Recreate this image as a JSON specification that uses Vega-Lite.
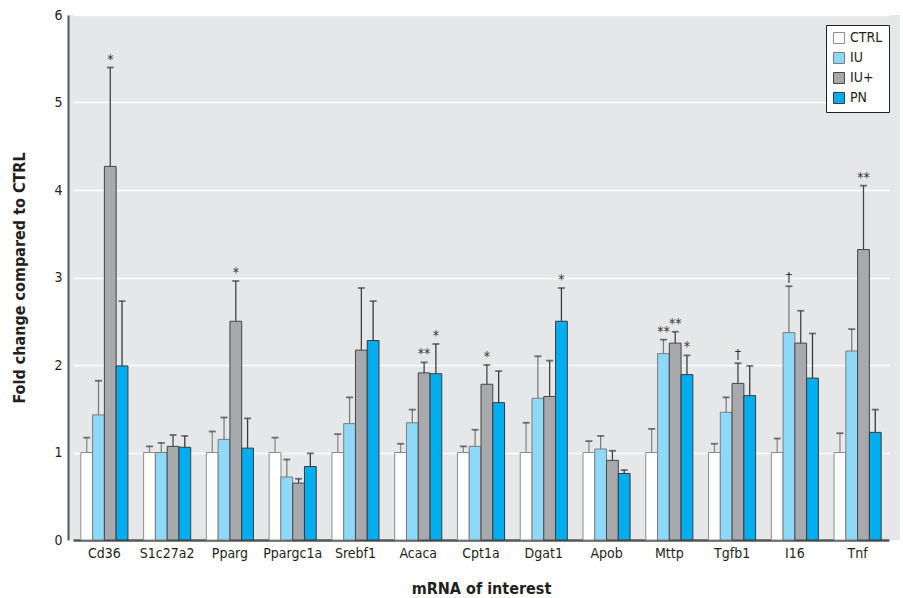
{
  "$schema": "https://vega.github.io/schema/vega-lite/v6.json",
  "width": 832,
  "height": 525,
  "autosize": {"type": "none"},
  "padding": {"left": 68, "top": 15, "right": 3, "bottom": 58},
  "background": "#ffffff",
  "config": {
    "font": "DejaVu Sans Condensed, Roboto, sans-serif",
    "view": {"fill": "#e6e7e8", "stroke": null},
    "axis": {"labelFont": "DejaVu Sans Condensed, Roboto, sans-serif", "titleFont": "DejaVu Sans Condensed, Roboto, sans-serif", "labelColor": "#231f20", "titleColor": "#231f20"},
    "legend": {"labelFont": "DejaVu Sans Condensed, Roboto, sans-serif"}
  },
  "data": {
    "values": [
      {"gene": "Cd36", "group": "CTRL", "value": 1.0, "upper": 1.17, "sig": ""},
      {"gene": "Cd36", "group": "IU", "value": 1.43, "upper": 1.82, "sig": ""},
      {"gene": "Cd36", "group": "IU+", "value": 4.27, "upper": 5.40, "sig": "*"},
      {"gene": "Cd36", "group": "PN", "value": 1.99, "upper": 2.73, "sig": ""},
      {"gene": "S1c27a2", "group": "CTRL", "value": 1.0, "upper": 1.07, "sig": ""},
      {"gene": "S1c27a2", "group": "IU", "value": 1.0, "upper": 1.11, "sig": ""},
      {"gene": "S1c27a2", "group": "IU+", "value": 1.07, "upper": 1.20, "sig": ""},
      {"gene": "S1c27a2", "group": "PN", "value": 1.06, "upper": 1.19, "sig": ""},
      {"gene": "Pparg", "group": "CTRL", "value": 1.0, "upper": 1.24, "sig": ""},
      {"gene": "Pparg", "group": "IU", "value": 1.15, "upper": 1.40, "sig": ""},
      {"gene": "Pparg", "group": "IU+", "value": 2.50, "upper": 2.96, "sig": "*"},
      {"gene": "Pparg", "group": "PN", "value": 1.05, "upper": 1.39, "sig": ""},
      {"gene": "Ppargc1a", "group": "CTRL", "value": 1.0, "upper": 1.17, "sig": ""},
      {"gene": "Ppargc1a", "group": "IU", "value": 0.72, "upper": 0.92, "sig": ""},
      {"gene": "Ppargc1a", "group": "IU+", "value": 0.65, "upper": 0.70, "sig": ""},
      {"gene": "Ppargc1a", "group": "PN", "value": 0.84, "upper": 0.99, "sig": ""},
      {"gene": "Srebf1", "group": "CTRL", "value": 1.0, "upper": 1.21, "sig": ""},
      {"gene": "Srebf1", "group": "IU", "value": 1.33, "upper": 1.63, "sig": ""},
      {"gene": "Srebf1", "group": "IU+", "value": 2.17, "upper": 2.88, "sig": ""},
      {"gene": "Srebf1", "group": "PN", "value": 2.28, "upper": 2.73, "sig": ""},
      {"gene": "Acaca", "group": "CTRL", "value": 1.0, "upper": 1.10, "sig": ""},
      {"gene": "Acaca", "group": "IU", "value": 1.34, "upper": 1.49, "sig": ""},
      {"gene": "Acaca", "group": "IU+", "value": 1.91, "upper": 2.03, "sig": "**"},
      {"gene": "Acaca", "group": "PN", "value": 1.90, "upper": 2.24, "sig": "*"},
      {"gene": "Cpt1a", "group": "CTRL", "value": 1.0, "upper": 1.07, "sig": ""},
      {"gene": "Cpt1a", "group": "IU", "value": 1.07, "upper": 1.26, "sig": ""},
      {"gene": "Cpt1a", "group": "IU+", "value": 1.78, "upper": 2.00, "sig": "*"},
      {"gene": "Cpt1a", "group": "PN", "value": 1.57, "upper": 1.93, "sig": ""},
      {"gene": "Dgat1", "group": "CTRL", "value": 1.0, "upper": 1.34, "sig": ""},
      {"gene": "Dgat1", "group": "IU", "value": 1.62, "upper": 2.10, "sig": ""},
      {"gene": "Dgat1", "group": "IU+", "value": 1.64, "upper": 2.05, "sig": ""},
      {"gene": "Dgat1", "group": "PN", "value": 2.50, "upper": 2.88, "sig": "*"},
      {"gene": "Apob", "group": "CTRL", "value": 1.0, "upper": 1.13, "sig": ""},
      {"gene": "Apob", "group": "IU", "value": 1.04, "upper": 1.19, "sig": ""},
      {"gene": "Apob", "group": "IU+", "value": 0.91, "upper": 1.02, "sig": ""},
      {"gene": "Apob", "group": "PN", "value": 0.76, "upper": 0.80, "sig": ""},
      {"gene": "Mttp", "group": "CTRL", "value": 1.0, "upper": 1.27, "sig": ""},
      {"gene": "Mttp", "group": "IU", "value": 2.13, "upper": 2.29, "sig": "**"},
      {"gene": "Mttp", "group": "IU+", "value": 2.25, "upper": 2.38, "sig": "**"},
      {"gene": "Mttp", "group": "PN", "value": 1.89, "upper": 2.11, "sig": "*"},
      {"gene": "Tgfb1", "group": "CTRL", "value": 1.0, "upper": 1.10, "sig": ""},
      {"gene": "Tgfb1", "group": "IU", "value": 1.46, "upper": 1.63, "sig": ""},
      {"gene": "Tgfb1", "group": "IU+", "value": 1.79, "upper": 2.02, "sig": "†"},
      {"gene": "Tgfb1", "group": "PN", "value": 1.65, "upper": 1.99, "sig": ""},
      {"gene": "I16", "group": "CTRL", "value": 1.0, "upper": 1.16, "sig": ""},
      {"gene": "I16", "group": "IU", "value": 2.37, "upper": 2.90, "sig": "†"},
      {"gene": "I16", "group": "IU+", "value": 2.25, "upper": 2.62, "sig": ""},
      {"gene": "I16", "group": "PN", "value": 1.85, "upper": 2.36, "sig": ""},
      {"gene": "Tnf", "group": "CTRL", "value": 1.0, "upper": 1.22, "sig": ""},
      {"gene": "Tnf", "group": "IU", "value": 2.16, "upper": 2.41, "sig": ""},
      {"gene": "Tnf", "group": "IU+", "value": 3.32, "upper": 4.05, "sig": "**"},
      {"gene": "Tnf", "group": "PN", "value": 1.23, "upper": 1.49, "sig": ""}
    ]
  },
  "encoding": {
    "x": {
      "field": "gene", "type": "nominal", "sort": null,
      "scale": {"range": [5, 821], "paddingInner": 0.25, "paddingOuter": 0.125},
      "axis": {
        "title": "mRNA of interest", "labelAngle": 0, "labelFontSize": 14, "labelPadding": 6,
        "ticks": false, "domain": true, "domainColor": "#555555", "domainWidth": 2.5,
        "titleFontSize": 16, "titleFontWeight": "bold", "titlePadding": 20
      }
    },
    "xOffset": {"field": "group", "type": "nominal", "sort": ["CTRL", "IU", "IU+", "PN"], "scale": {"paddingInner": 0, "paddingOuter": 0}}
  },
  "layer": [
    {
      "mark": {"type": "bar", "strokeWidth": 1},
      "encoding": {
        "y": {
          "field": "value", "type": "quantitative",
          "scale": {"domain": [0, 6], "nice": false},
          "axis": {
            "title": "Fold change compared to CTRL", "values": [0, 1, 2, 3, 4, 5, 6], "format": "d",
            "labelFontSize": 14, "labelPadding": 6, "ticks": false,
            "grid": true, "gridColor": "#ffffff", "gridWidth": 1.5,
            "domain": true, "domainColor": "#555555", "domainWidth": 2,
            "titleFontSize": 16, "titleFontWeight": "bold", "titlePadding": 26
          }
        },
        "fill": {
          "field": "group", "type": "nominal",
          "scale": {"domain": ["CTRL", "IU", "IU+", "PN"], "range": ["#ffffff", "#8ed8f8", "#a7a9ac", "#00aeef"]},
          "legend": {
            "title": null, "orient": "none", "legendX": 758, "legendY": 10,
            "fillColor": "#ffffff", "strokeColor": "#231f20", "padding": 6,
            "symbolType": "square", "symbolSize": 120, "symbolStrokeColor": "#444444", "symbolStrokeWidth": 1,
            "labelFontSize": 14, "labelColor": "#231f20", "rowPadding": 4, "labelOffset": 4
          }
        },
        "stroke": {
          "field": "group", "type": "nominal",
          "scale": {"domain": ["CTRL", "IU", "IU+", "PN"], "range": ["#8c8c8c", "#7d7d7d", "#444444", "#3a3a3a"]},
          "legend": null
        }
      }
    },
    {
      "mark": {"type": "rule", "strokeWidth": 1.3},
      "encoding": {
        "y": {"field": "value", "type": "quantitative"},
        "y2": {"field": "upper"},
        "stroke": {
          "field": "group", "type": "nominal",
          "scale": {"domain": ["CTRL", "IU", "IU+", "PN"], "range": ["#8c8c8c", "#7d7d7d", "#444444", "#3a3a3a"]},
          "legend": null
        }
      }
    },
    {
      "mark": {"type": "tick", "thickness": 1.8, "size": 7, "orient": "horizontal", "color": "#3a3a3a"},
      "encoding": {
        "y": {"field": "upper", "type": "quantitative"}
      }
    },
    {
      "mark": {"type": "text", "baseline": "alphabetic", "dy": -4, "fontSize": 14, "fill": "#333333", "letterSpacing": -1.5},
      "encoding": {
        "y": {"field": "upper", "type": "quantitative"},
        "text": {"field": "sig"}
      }
    }
  ]
}
